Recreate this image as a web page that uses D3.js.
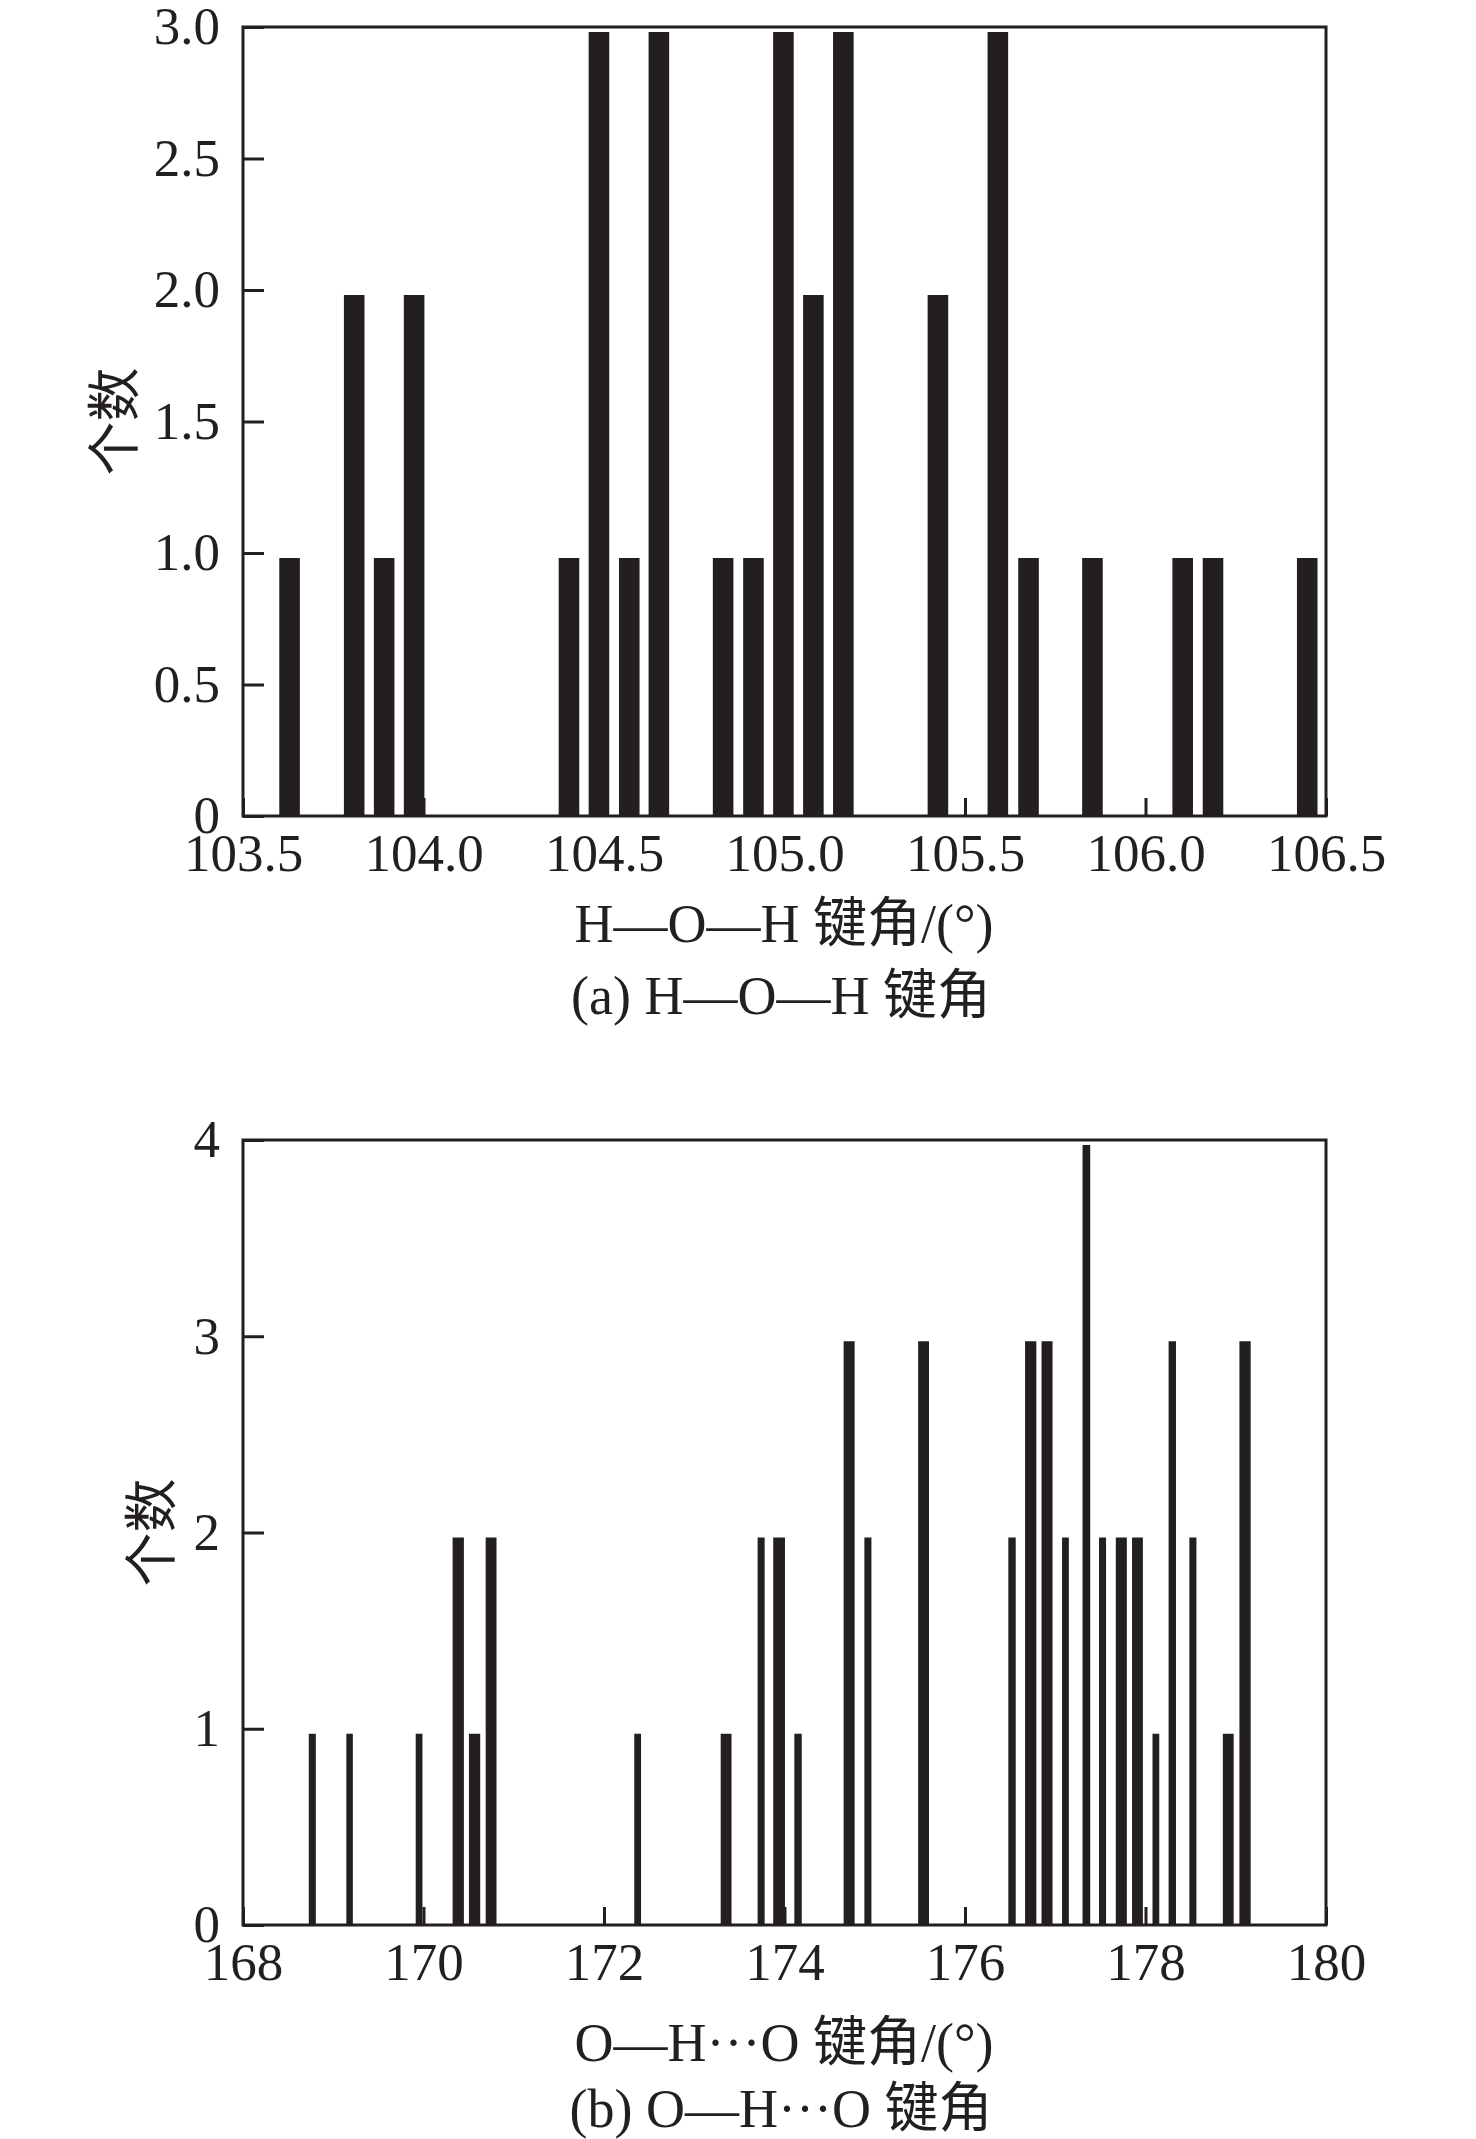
<!DOCTYPE html>
<html>
<head>
<meta charset="utf-8">
<script src="https://cdn.jsdelivr.net/npm/d3@7"></script>
<style>
  body { margin: 0; background: #fff; }
  text { font-family: "Liberation Serif", "Noto Sans CJK SC", serif; fill: #231f20; }
</style>
</head>
<body>
<div id="chart"></div>
<script>
// (a) H-O-H bond angle histogram
var hohAngles = [103.629, 103.808, 103.891, 103.974, 104.403, 104.486, 104.570, 104.652,
                 104.830, 104.914, 104.997, 105.080, 105.163, 105.425, 105.591, 105.676,
                 105.853, 106.103, 106.187, 106.448];
var hohCounts = [1, 2, 1, 2, 1, 3, 1, 3, 1, 1, 3, 2, 3, 2, 3, 1, 1, 1, 1, 1];
var hohBinWidth = 0.057;
var hohTicksX = [103.5, 104.0, 104.5, 105.0, 105.5, 106.0, 106.5];
var hohTicksY = [0, 0.5, 1.0, 1.5, 2.0, 2.5, 3.0];

// (b) O-H...O bond angle histogram
var ohoAngles = [168.768, 169.181, 169.951, 170.385, 170.566, 170.749, 172.373, 173.353,
                 173.741, 173.940, 174.150, 174.716, 174.924, 175.541, 176.521, 176.728,
                 176.909, 177.113, 177.345, 177.524, 177.732, 177.911, 178.115, 178.297,
                 178.525, 178.917, 179.103];
var ohoCounts = [1, 1, 1, 2, 1, 2, 1, 1, 2, 2, 1, 3, 2, 3, 2, 3, 3, 2, 4, 2, 2, 2, 1, 3, 2, 1, 3];
var ohoBinWidths = [0.078, 0.072, 0.075, 0.125, 0.125, 0.12, 0.075, 0.12, 0.078, 0.13,
                    0.082, 0.122, 0.078, 0.12, 0.082, 0.125, 0.122, 0.075, 0.085, 0.078,
                    0.122, 0.12, 0.075, 0.082, 0.078, 0.12, 0.125];
var ohoTicksX = [168, 170, 172, 174, 176, 178, 180];
var ohoTicksY = [0, 1, 2, 3, 4];

var ink = "#231f20";

var svg = d3.select("#chart")
	.append("svg")
	.attr("width", 1476)
	.attr("height", 2139);

function panel(opt) {
	var left = 243, right = 1326;

	var x = d3.scaleLinear()
		.domain(d3.extent(opt.ticksX))
		.range([left, right]);
	var y = d3.scaleLinear()
		.domain(d3.extent(opt.ticksY))
		.range([opt.bottom, opt.top]);

	var g = svg.append("g");

	// axes (ticks point inward)
	var ax = g.append("g")
		.attr("transform", "translate(0," + opt.bottom + ")")
		.call(d3.axisBottom(x).tickValues(opt.ticksX).tickFormat(opt.fmtX)
			.tickSizeInner(-18).tickSizeOuter(0).tickPadding(17));
	var ay = g.append("g")
		.attr("transform", "translate(" + left + ",0)")
		.call(d3.axisLeft(y).tickValues(opt.ticksY).tickFormat(opt.fmtY)
			.tickSizeInner(-21).tickSizeOuter(0).tickPadding(23));

	[ax, ay].forEach(function (a) {
		a.select(".domain").remove();
		a.selectAll("line").attr("stroke", ink).attr("stroke-width", 3);
		a.selectAll("text")
			.attr("font-family", "Liberation Serif, serif")
			.attr("font-size", 53)
			.attr("fill", ink);
	});

	// bars
	var rows = opt.angles.map(function (a, i) {
		return {angle: a, count: opt.counts[i], w: opt.widths[i]};
	});
	g.append("g").selectAll("rect")
		.data(rows)
		.enter()
		.append("rect")
		.attr("x", function (d) { return x(d.angle - d.w / 2); })
		.attr("width", function (d) { return x(d.angle + d.w / 2) - x(d.angle - d.w / 2); })
		.attr("y", function (d) { return y(d.count) + 5; })
		.attr("height", function (d) { return y(0) - y(d.count) - 5; })
		.style("fill", ink);

	// frame
	g.append("rect")
		.attr("x", left)
		.attr("y", opt.top)
		.attr("width", right - left)
		.attr("height", opt.bottom - opt.top)
		.attr("fill", "none")
		.attr("stroke", ink)
		.attr("stroke-width", 3);

	// y label
	g.append("text")
		.attr("transform", "translate(" + opt.yLabelX + "," + (opt.top + opt.bottom) / 2 + ") rotate(-90)")
		.attr("text-anchor", "middle")
		.attr("dominant-baseline", "central")
		.attr("font-size", 54)
		.text("个数");

	// x title and caption
	g.append("text")
		.attr("x", 784)
		.attr("y", opt.bottom + opt.titleGap)
		.attr("text-anchor", "middle")
		.attr("font-size", 54)
		.text(opt.xTitle);
	g.append("text")
		.attr("x", 781)
		.attr("y", opt.bottom + opt.captionGap)
		.attr("text-anchor", "middle")
		.attr("font-size", 54)
		.text(opt.caption);
}

panel({
	angles: hohAngles,
	counts: hohCounts,
	widths: hohAngles.map(function () { return hohBinWidth; }),
	ticksX: hohTicksX,
	ticksY: hohTicksY,
	fmtX: d3.format(".1f"),
	fmtY: function (d) { return d === 0 ? "0" : d3.format(".1f")(d); },
	top: 27,
	bottom: 816,
	yLabelX: 116,
	titleGap: 126,
	captionGap: 198,
	xTitle: "H\u2014O\u2014H 键角/(°)",
	caption: "(a) H\u2014O\u2014H 键角"
});

panel({
	angles: ohoAngles,
	counts: ohoCounts,
	widths: ohoBinWidths,
	ticksX: ohoTicksX,
	ticksY: ohoTicksY,
	fmtX: d3.format("d"),
	fmtY: d3.format("d"),
	top: 1140,
	bottom: 1925,
	yLabelX: 153,
	titleGap: 136,
	captionGap: 202,
	xTitle: "O\u2014H\u00b7\u00b7\u00b7O 键角/(°)",
	caption: "(b) O\u2014H\u00b7\u00b7\u00b7O 键角"
});
</script>
</body>
</html>
